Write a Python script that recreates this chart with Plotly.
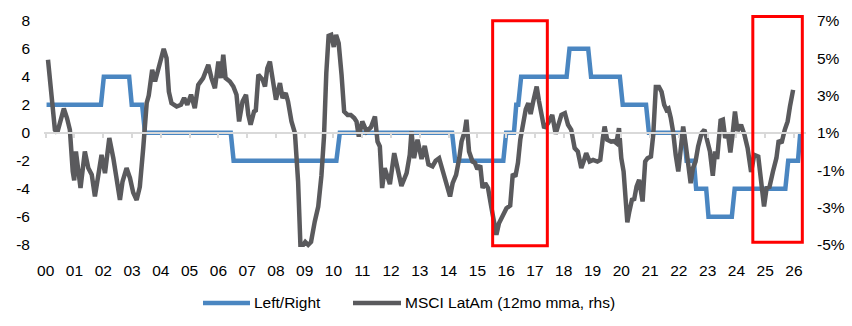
import plotly.graph_objects as go

# ---- data -----------------------------------------------------------------
YEAR_TICKS = list(range(2000, 2027))
YEAR_LABELS = [f"{y % 100:02d}" for y in YEAR_TICKS]

LEFT_TICKS = [-8, -6, -4, -2, 0, 2, 4, 6, 8]
RIGHT_TICKS = [-5, -3, -1, 1, 3, 5, 7]

# Left/Right political score (lhs), vertices of the monthly step series
LR_YEARS = [2000.03, 2001.92, 2002.02, 2002.90, 2002.99, 2003.35, 2003.45,
            2006.43, 2006.53, 2010.10, 2010.22, 2014.12, 2014.23, 2015.90,
            2016.00, 2016.27, 2016.35, 2016.42, 2016.52, 2018.10, 2018.20,
            2018.85, 2018.95, 2019.95, 2020.05, 2020.86, 2020.96, 2022.17,
            2022.27, 2022.52, 2022.60, 2022.95, 2023.03, 2023.84, 2023.94,
            2025.70, 2025.80, 2026.14, 2026.22]
LR_VALUES = [2, 2, 4, 4, 2, 2, 0,
             0, -2, -2, 0, 0, -2, -2,
             0, 0, 2, 2, 4, 4, 6,
             6, 4, 4, 2, 2, 0, 0,
             -2, -2, -4, -4, -6, -6, -4,
             -4, -2, -2, 0]

# MSCI LatAm, 12-month moving average of monthly returns (rhs, %)
LATAM_YEARS = [
    2000.08, 2000.14, 2000.32, 2000.40, 2000.52, 2000.63, 2000.74, 2000.84,
    2000.94, 2000.99, 2001.05, 2001.13, 2001.21, 2001.36, 2001.48, 2001.60,
    2001.71, 2001.83, 2001.94, 2002.06, 2002.21, 2002.35, 2002.47, 2002.58,
    2002.67, 2002.81, 2002.93, 2003.04, 2003.16, 2003.27, 2003.39, 2003.51,
    2003.58, 2003.70, 2003.80, 2003.91, 2004.10, 2004.20, 2004.28, 2004.37,
    2004.55, 2004.70, 2004.81, 2004.92, 2005.05, 2005.18, 2005.30, 2005.47,
    2005.65, 2005.76, 2005.88, 2006.00, 2006.09, 2006.17, 2006.25, 2006.40,
    2006.52, 2006.63, 2006.72, 2006.84, 2006.96, 2007.04, 2007.12, 2007.24,
    2007.30, 2007.39, 2007.54, 2007.62, 2007.70, 2007.79, 2007.88, 2008.00,
    2008.14, 2008.23, 2008.34, 2008.42, 2008.54, 2008.66, 2008.77, 2008.85,
    2008.95, 2009.02, 2009.12, 2009.22, 2009.35, 2009.47, 2009.58, 2009.67,
    2009.75, 2009.83, 2009.92, 2010.01, 2010.09, 2010.18, 2010.28, 2010.37,
    2010.49, 2010.60, 2010.72, 2010.80, 2010.88, 2011.00, 2011.15, 2011.30,
    2011.44, 2011.53, 2011.61, 2011.69, 2011.78, 2011.87, 2011.96, 2012.11,
    2012.22, 2012.36, 2012.54, 2012.65, 2012.71, 2012.80, 2012.92, 2013.06,
    2013.17, 2013.30, 2013.44, 2013.55, 2013.67, 2013.78, 2013.92, 2014.05,
    2014.14, 2014.26, 2014.37, 2014.45, 2014.56, 2014.62, 2014.71, 2014.83,
    2014.91, 2015.00, 2015.10, 2015.18, 2015.27, 2015.37, 2015.49, 2015.60,
    2015.66, 2015.75, 2015.85, 2016.01, 2016.14, 2016.23, 2016.32, 2016.41,
    2016.49, 2016.58, 2016.68, 2016.77, 2016.85, 2016.95, 2017.06, 2017.14,
    2017.23, 2017.32, 2017.46, 2017.60, 2017.72, 2017.81, 2017.92, 2018.04,
    2018.15, 2018.26, 2018.38, 2018.49, 2018.61, 2018.70, 2018.78, 2018.90,
    2019.02, 2019.17, 2019.27, 2019.36, 2019.42, 2019.51, 2019.65, 2019.75,
    2019.83, 2019.92, 2020.00, 2020.08, 2020.21, 2020.28, 2020.37, 2020.45,
    2020.53, 2020.62, 2020.74, 2020.83, 2020.91, 2021.03, 2021.11, 2021.20,
    2021.31, 2021.40, 2021.49, 2021.57, 2021.64, 2021.72, 2021.80, 2021.89,
    2021.98, 2022.07, 2022.15, 2022.24, 2022.33, 2022.41, 2022.49, 2022.58,
    2022.67, 2022.79, 2022.89, 2022.99, 2023.08, 2023.18, 2023.26, 2023.33,
    2023.45, 2023.53, 2023.61, 2023.70, 2023.79, 2023.86, 2023.95, 2024.04,
    2024.16, 2024.28, 2024.39, 2024.51, 2024.62, 2024.76, 2024.85, 2024.96,
    2025.05, 2025.15, 2025.27, 2025.39, 2025.47, 2025.57, 2025.68, 2025.78,
    2025.86, 2025.97]
LATAM_VALUES = [
    4.91, 3.80, 1.16, 1.00, 1.79, 2.30, 1.79, 1.16,
    -1.07, -1.55, 0.00, -1.07, -1.96, 0.00, -0.89, -1.25,
    -2.41, -1.25, -0.18, -1.16, 0.72, -0.36, -1.61, -2.59,
    -1.61, -0.89, -1.43, -2.20, -2.60, -1.90, 0.20, 2.60,
    3.00, 4.37, 3.75, 4.46, 5.50, 5.00, 3.20, 2.59,
    2.41, 2.50, 2.86, 2.50, 3.04, 2.32, 3.57, 3.93,
    4.64, 3.93, 3.39, 4.82, 3.93, 5.18, 3.93, 3.75,
    3.48, 3.04, 1.61, 2.68, 3.04, 1.96, 1.43, 2.14,
    2.20, 4.11, 3.84, 3.48, 4.46, 4.82, 3.75, 2.77,
    3.66, 2.86, 3.13, 2.68, 1.61, 0.98, -1.61, -5.00,
    -5.00, -4.85, -5.00, -4.85, -3.75, -2.95, -1.30, 0.80,
    4.20, 6.20, 6.25, 5.60, 6.25, 5.80, 4.11, 2.14,
    1.96, 1.96, 1.79, 1.60, 0.80, 1.61, 1.07, 1.30,
    1.87, 0.53, 0.27, -1.96, -0.89, -1.30, -1.75, -0.09,
    -0.90, -1.85, -1.16, -0.18, 1.07, -0.36, 0.63, -0.40,
    0.30, -0.70, -0.80, -0.50, -0.36, -0.90, -1.60, -2.41,
    -1.70, -1.25, -0.36, 0.53, 1.07, 1.70, 0.00, -0.54,
    -0.60, -0.95, -0.75, -1.96, -1.70, -1.96, -3.04, -4.11,
    -4.46, -3.85, -3.50, -3.04, -2.90, -1.20, -1.35, -0.60,
    0.63, 1.60, 2.25, 2.59, 2.00, 2.75, 3.48, 2.70,
    1.79, 1.25, 1.52, 1.96, 0.95, 1.43, 1.96, 2.05,
    1.43, 1.16, 0.18, 0.00, -0.89, -0.50, -0.09, -0.54,
    -0.45, -0.54, -0.45, 0.72, 1.34, 0.63, 0.53, 0.55,
    0.45, 1.25, -0.36, -1.07, -3.80, -3.21, -2.59, -2.55,
    -1.88, -1.52, -2.68, -0.54, -0.36, -0.27, 0.89, 3.45,
    3.45, 3.20, 2.50, 2.23, 2.30, 1.79, 1.07, -0.18,
    -1.07, 0.18, 1.34, 0.36, -0.54, -1.70, -0.89, -0.54,
    0.27, 0.98, 1.16, 0.40, 0.00, -1.30, 0.00, -0.40,
    1.65, 1.70, 0.72, 1.00, -0.05, 0.80, 2.14, 1.10,
    1.43, 0.89, 0.18, -1.10, -0.18, -0.27, -1.61, -2.95,
    -1.96, -1.90, -1.07, -0.36, 0.60, 0.45, 1.16, 1.61,
    2.40, 3.30]

# highlighted periods (start, end, bottom, top in lhs units)
HIGHLIGHTS = [(2015.53, 2017.43, -8.07, 8.00),
              (2024.57, 2026.29, -7.81, 8.31)]

LR_NAME = "Left/Right"
LATAM_NAME = "MSCI LatAm (12mo mma, rhs)"

# ---- styling --------------------------------------------------------------
BLUE = "#4A86C1"
GREY = "#5A5A5D"
RED = "#FF0000"
AXIS_GREY = "#D9D9D9"
FONT = "Liberation Sans Narrow, Arial Narrow, Liberation Sans, Arial, sans-serif"
FONT_SIZE = 15.5

W, H = 852, 326
ML, MR, MT, MB = 44, 46, 14, 77
X_RANGE = [1999.941, 2026.418]
Y_RANGE = [-8.3, 8.486]
# rhs axis is a linear rescale of the lhs one: rhs = 0.75 * lhs + 1
Y2_RANGE = [0.75 * Y_RANGE[0] + 1, 0.75 * Y_RANGE[1] + 1]
ZERO_POS = (0 - Y_RANGE[0]) / (Y_RANGE[1] - Y_RANGE[0])

fig = go.Figure()
fig.add_trace(go.Scatter(x=LR_YEARS, y=LR_VALUES, name=LR_NAME, mode="lines",
                         line=dict(color=BLUE, width=4.5), showlegend=False))
fig.add_trace(go.Scatter(x=LATAM_YEARS, y=LATAM_VALUES, name=LATAM_NAME,
                         mode="lines", yaxis="y2",
                         line=dict(color=GREY, width=4.5), showlegend=False))

for x0, x1, y0, y1 in HIGHLIGHTS:
    fig.add_shape(type="rect", xref="x", yref="y", x0=x0, x1=x1, y0=y0, y1=y1,
                  line=dict(color=RED, width=3), fillcolor="rgba(0,0,0,0)",
                  layer="above")


# legend drawn below the axis
def px_to_paper(px, py):
    return ((px - ML) / (W - ML - MR), (H - MB - py) / (H - MT - MB))


LEGEND = [(LR_NAME, BLUE, 203, 250), (LATAM_NAME, GREY, 353, 401)]
for name, color, xs, xe in LEGEND:
    ax0, ay = px_to_paper(xs, 303)
    ax1, _ = px_to_paper(xe, 303)
    fig.add_shape(type="line", xref="paper", yref="paper", x0=ax0, x1=ax1,
                  y0=ay, y1=ay, line=dict(color=color, width=4.5))
    tx, ty = px_to_paper(xe + 2, 302)
    fig.add_annotation(xref="paper", yref="paper", x=tx, y=ty, text=name,
                       showarrow=False, xanchor="left", yanchor="middle",
                       font=dict(family=FONT, size=FONT_SIZE, color="#000000"))

fig.update_layout(
    width=W, height=H,
    margin=dict(l=ML, r=MR, t=MT, b=MB, autoexpand=False),
    paper_bgcolor="white", plot_bgcolor="white",
    font=dict(family=FONT, size=FONT_SIZE, color="#000000"),
    showlegend=False,
    xaxis=dict(range=X_RANGE, tickvals=YEAR_TICKS, ticktext=YEAR_LABELS,
               anchor="free", position=ZERO_POS, showgrid=False,
               zeroline=False, showline=True, linecolor=AXIS_GREY,
               linewidth=1.5, ticks="outside", ticklen=4,
               tickcolor=AXIS_GREY, tickwidth=1.5, ticklabelstandoff=120,
               automargin=False),
    yaxis=dict(range=Y_RANGE, tickvals=LEFT_TICKS,
               ticktext=[str(v) for v in LEFT_TICKS], showgrid=False,
               zeroline=False, showline=False, ticks="",
               ticklabelstandoff=13, automargin=False),
    yaxis2=dict(range=Y2_RANGE, tickvals=RIGHT_TICKS,
                ticktext=[f"{v}%" for v in RIGHT_TICKS], overlaying="y",
                side="right", showgrid=False, zeroline=False, showline=False,
                ticks="", ticklabelstandoff=10, automargin=False),
)

fig.write_html("out.html")
